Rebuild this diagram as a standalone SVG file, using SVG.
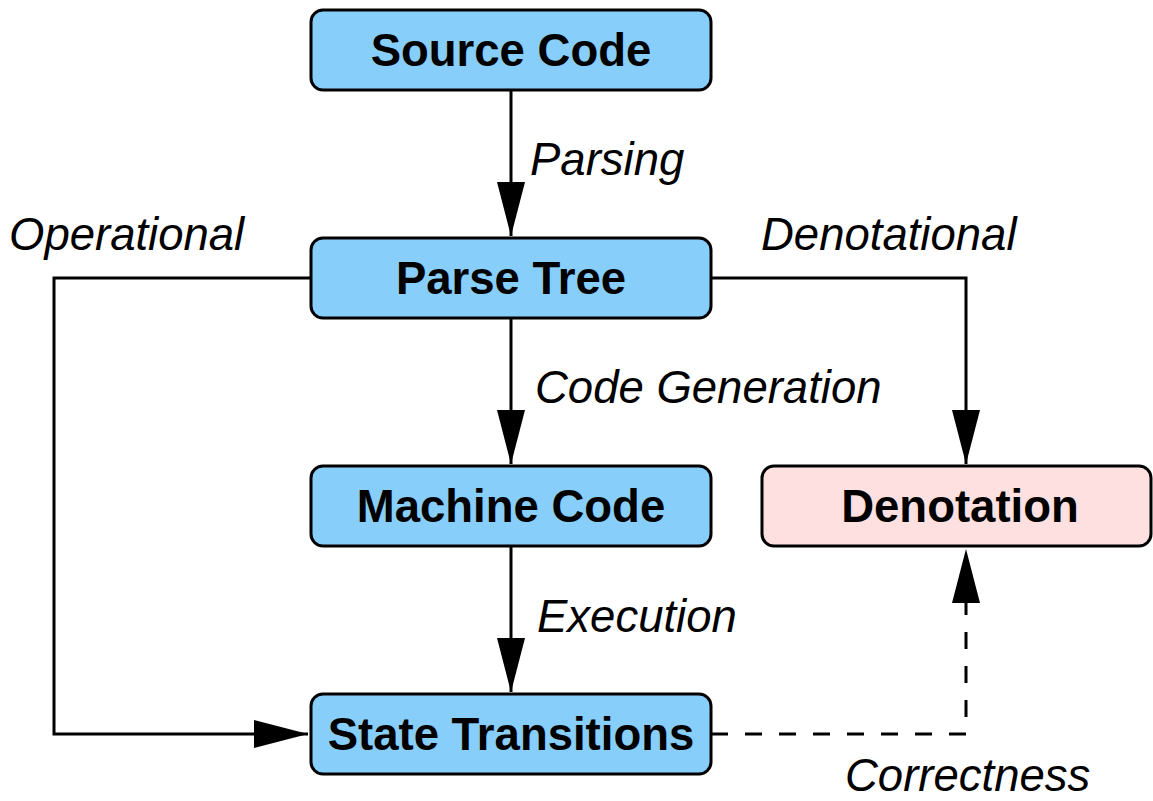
<svg xmlns="http://www.w3.org/2000/svg" width="1153" height="801" viewBox="0 0 1153 801">
<style>
.box{stroke:#000;stroke-width:3}
.blue{fill:#87cefa}
.pink{fill:#ffe0e0}
.nt{font-family:"Liberation Sans",Arial,sans-serif;font-weight:bold;font-size:45.5px;text-anchor:middle;fill:#000}
.lb{font-family:"Liberation Sans",Arial,sans-serif;font-style:italic;font-size:45.5px;fill:#000}
.ln{fill:none;stroke:#000;stroke-width:3}
.dash{stroke-dasharray:17 17}
</style>
<defs>
<marker id="ah" viewBox="0 0 54 28" refX="54" refY="14" markerWidth="54" markerHeight="28" markerUnits="userSpaceOnUse" orient="auto">
<path d="M0,0 L54,14 L0,28 Z" fill="#000"/>
</marker>
</defs>
<rect width="1153" height="801" fill="#fff"/>
<g id="connectors">
<line class="ln" x1="511" y1="90" x2="511" y2="236" marker-end="url(#ah)"/>
<line class="ln" x1="511" y1="318" x2="511" y2="464" marker-end="url(#ah)"/>
<line class="ln" x1="511" y1="546" x2="511" y2="692" marker-end="url(#ah)"/>
<polyline class="ln" points="311,278 54,278 54,734 308,734" marker-end="url(#ah)"/>
<polyline class="ln" points="711,278 966,278 966,464" marker-end="url(#ah)"/>
<polyline class="ln dash" points="711,734 966,734 966,549" marker-end="url(#ah)"/>
</g>
<g id="labels">
<text class="lb" x="530" y="175">Parsing</text>
<text class="lb" x="9" y="250">Operational</text>
<text class="lb" x="761" y="250">Denotational</text>
<text class="lb" x="535" y="403">Code Generation</text>
<text class="lb" x="537" y="632">Execution</text>
<text class="lb" x="845" y="791">Correctness</text>
</g>
<g id="source-code"><rect class="box blue" x="311" y="10" width="400" height="80" rx="12"/><text class="nt" x="511" y="66">Source Code</text></g>
<g id="parse-tree"><rect class="box blue" x="311" y="238" width="400" height="80" rx="12"/><text class="nt" x="511" y="294">Parse Tree</text></g>
<g id="machine-code"><rect class="box blue" x="311" y="466" width="400" height="80" rx="12"/><text class="nt" x="511" y="522">Machine Code</text></g>
<g id="state-transitions"><rect class="box blue" x="311" y="694" width="400" height="80" rx="12"/><text class="nt" x="511" y="750">State Transitions</text></g>
<g id="denotation"><rect class="box pink" x="762" y="466" width="389" height="80" rx="12"/><text class="nt" x="960" y="522">Denotation</text></g>
</svg>
